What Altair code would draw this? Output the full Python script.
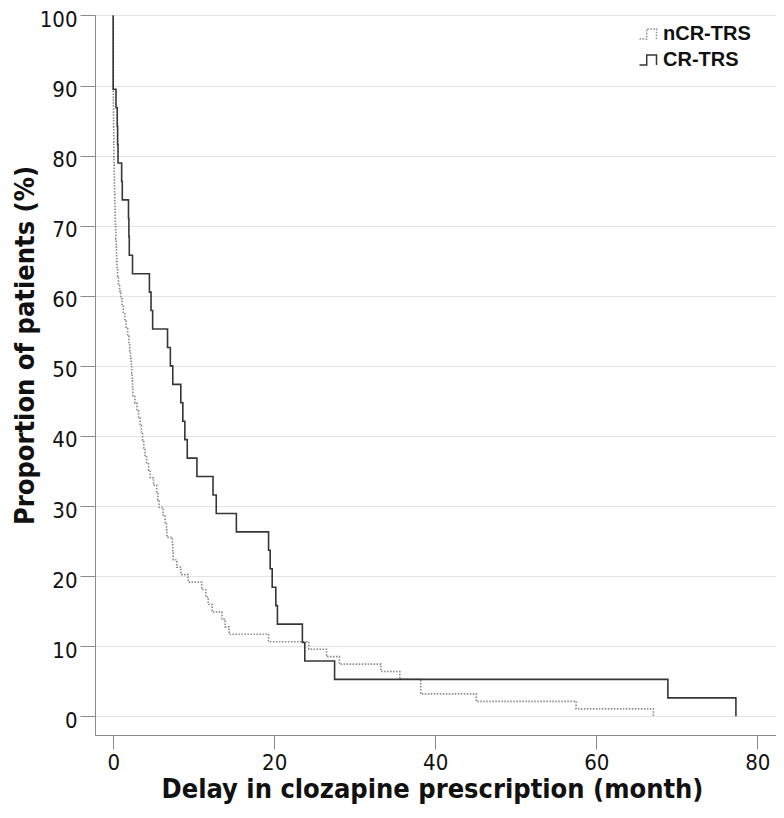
import altair as alt
import pandas as pd

# ---- data (months at which each patient received clozapine) ----
series_names = ["nCR-TRS", "CR-TRS"]
series_colors = ["#8a8a8a", "#363636"]

ncr_event_months = [
    0, 0, 0, 0, 0, 0, 0, 0, 0, 0,
    0.01, 0.02, 0.03, 0.04, 0.05, 0.06, 0.07, 0.08, 0.09, 0.10,
    0.12, 0.14, 0.16, 0.18, 0.20, 0.22, 0.24, 0.26,
    0.30, 0.33, 0.36, 0.40, 0.43,
    0.48, 0.55,
    0.65, 0.8, 0.95, 1.1, 1.25, 1.45, 1.6, 1.8, 1.95, 2.05,
    2.15, 2.25, 2.3, 2.35, 2.4, 2.45, 2.7, 2.95, 3.15, 3.35,
    3.5, 3.65, 3.8, 3.95, 4.15, 4.4, 4.6, 5.0, 5.4, 5.55,
    5.7, 6.2, 6.45, 6.62, 6.67, 7.35, 7.4, 7.45, 7.9, 8.4,
    9.3, 11.0, 11.5, 11.8, 12.3, 13.5, 13.9, 14.4, 19.3, 24.3,
    26.5, 28.1, 33.25, 35.6, 38.2, 38.2, 45.1, 57.5, 67.1,
]

cr_event_months = [
    0, 0, 0, 0, 0.35, 0.5, 0.55, 0.6, 1.05, 1.13,
    1.9, 1.95, 2.0, 2.4, 4.5, 4.7, 4.9, 6.75, 7.1, 7.4,
    8.4, 8.65, 8.9, 9.2, 10.4, 12.4, 12.8, 15.3, 19.3, 19.5,
    19.75, 20.2, 20.4, 23.5, 23.8, 27.5, 68.9, 77.35,
]

x_ticks = [0, 20, 40, 60, 80]
y_ticks = [0, 10, 20, 30, 40, 50, 60, 70, 80, 90, 100]


def km_rows(name, events):
    n = len(events)
    rows = [{"series": name, "month": 0.0, "pct": 100.0, "order": 0}]
    remaining = n
    for i, t in enumerate(sorted(set(events))):
        remaining -= events.count(t)
        rows.append({"series": name, "month": float(t), "pct": 100.0 * remaining / n, "order": i + 1})
    return rows


df = pd.DataFrame(km_rows(series_names[0], ncr_event_months) + km_rows(series_names[1], cr_event_months))

tick_font = "DejaVu Sans Condensed, DejaVu Sans, sans-serif"

legend = alt.Legend(
    title=None,
    orient="none",
    legendX=535,
    legendY=1,
    fillColor="white",
    padding=8,
    symbolType="M -1 0.6 L -0.15 0.6 L -0.15 -0.6 L 1 -0.6 L 1 0.6",
    symbolSize=289,
    symbolStrokeWidth=1.5,
    symbolFillColor="transparent",
    labelFont="Liberation Sans, Arial, sans-serif",
    labelFontWeight="bold",
    labelFontSize=20,
    labelColor="#111111",
    labelOffset=5,
    rowPadding=6,
)

chart = alt.Chart(df).mark_line(interpolate="step-after", strokeWidth=1.6).encode(
    x=alt.X(
        "month:Q",
        scale=alt.Scale(domain=[-2.26, 82.33], nice=False, zero=False),
        axis=alt.Axis(
            values=x_ticks,
            grid=False,
            title="Delay in clozapine prescription (month)",
            titleFont=tick_font,
            titleFontSize=27,
            titleFontWeight="bold",
            titleColor="#111111",
            titleX=337,
            titleY=54,
            titleBaseline="middle",
            titleAlign="center",
            labelFont=tick_font,
            labelFontSize=22,
            labelColor="#111111",
            labelPadding=3,
            tickSize=14,
            tickColor="#8a8a8a",
            domainColor="#8a8a8a",
            labelFlush=False,
        ),
    ),
    y=alt.Y(
        "pct:Q",
        scale=alt.Scale(domain=[-2.67, 100.07], nice=False, zero=False),
        axis=alt.Axis(
            values=y_ticks,
            grid=True,
            gridColor="#e3e3e3",
            title="Proportion of patients (%)",
            titleFont=tick_font,
            titleFontSize=27,
            titleFontWeight="bold",
            titleColor="#111111",
            titleAngle=270,
            titleX=-70,
            titleY=330,
            titleAlign="center",
            titleBaseline="middle",
            labelFont=tick_font,
            labelFontSize=22,
            labelColor="#111111",
            labelPadding=3,
            labelOffset=4,
            tickSize=15,
            tickColor="#8a8a8a",
            domainColor="#8a8a8a",
            labelFlush=False,
        ),
    ),
    color=alt.Color(
        "series:N",
        scale=alt.Scale(domain=series_names, range=series_colors),
        legend=legend,
    ),
    strokeDash=alt.StrokeDash(
        "series:N",
        scale=alt.Scale(domain=series_names, range=[[1.5, 1.5], [1, 0]]),
        legend=legend,
    ),
    order="order:Q",
).properties(
    width=681,
    height=720,
    autosize=alt.AutoSizeParams(type="none"),
    padding={"left": 87, "top": 7, "right": 0, "bottom": 70},
    background="white",
).configure_view(stroke=None)

chart.save("out.html", embed_options={"renderer": "svg", "actions": False})
